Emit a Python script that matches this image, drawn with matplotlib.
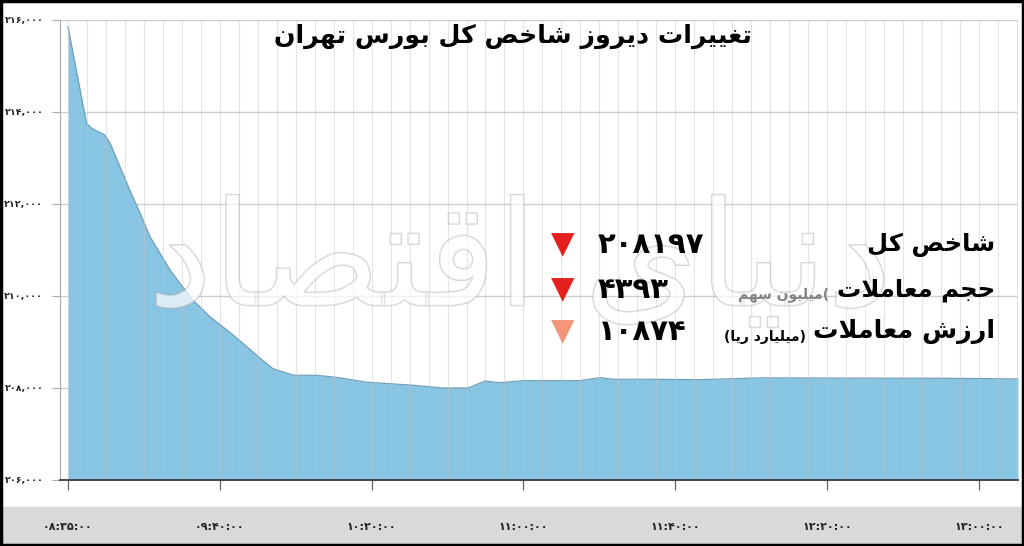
import unicodedata
import numpy as np
import matplotlib
matplotlib.use('Agg')
import matplotlib.pyplot as plt
from matplotlib.patches import Rectangle
import matplotlib.patheffects as pe

plt.rcParams['font.family'] = ['DejaVu Sans']

""" Data read off the chart (minutes after first tick, index value) """
minutes = [0, 4.9, 6.2, 9.7, 11.1, 13.7, 16.3, 19.0, 21.6, 24.2, 26.9, 29.5, 32.9,
           37.4, 41.9, 46.1, 50.6, 54.0, 59.3, 65.6, 70.9, 78.8, 90.1, 98.8,
           105.4, 109.9, 113.8, 119.9, 134.9, 140.2, 143.6, 153.4, 166.5, 182.3,
           206.1, 232.4, 250.3]
index_values = [215850, 213750, 213650, 213500, 213320, 212810, 212300, 211800,
                211290, 210935, 210565, 210275, 209910, 209550, 209260, 208970,
                208650, 208420, 208280, 208275, 208230, 208125, 208065, 208000,
                208000, 208150, 208115, 208160, 208160, 208225, 208190, 208190,
                208180, 208220, 208215, 208210, 208197]

x_tick_pos = [0, 40, 80, 120, 160, 200, 240]
x_tick_labels = ['۰۸:۳۵:۰۰', '۰۹:۴۰:۰۰', '۱۰:۲۰:۰۰', '۱۱:۰۰:۰۰',
                 '۱۱:۴۰:۰۰', '۱۲:۲۰:۰۰', '۱۳:۰۰:۰۰']
y_ticks = [206000, 208000, 210000, 212000, 214000, 216000]

title = 'تغییرات دیروز شاخص کل بورس تهران'
stat_names = ['شاخص کل', 'حجم معاملات', 'ارزش معاملات']
stat_units = ['', ')میلیون سهم', '(میلیارد ریا)']
stat_values = ['۲۰۸۱۹۷', '۴۳۹۳', '۱۰۸۷۴']
stat_colors = ['#e4201c', '#e4201c', '#f2957a']
watermark = 'دنیای اقتصاد'

FA_DIGITS = str.maketrans('0123456789', '۰۱۲۳۴۵۶۷۸۹')
RIGHT_ONLY = set('اآأإدذرزژو')


def forms(ch):
    """ Presentation forms of an arabic letter, None for anything else """
    if not ch:
        return None
    try:
        name = unicodedata.name(ch)
    except ValueError:
        return None
    if not name.startswith('ARABIC LETTER'):
        return None
    f = {}
    for k in ('ISOLATED', 'FINAL', 'INITIAL', 'MEDIAL'):
        try:
            f[k] = unicodedata.lookup(name + ' ' + k + ' FORM')
        except KeyError:
            pass
    return f


def fa(text):
    """ Tiny shaper: join letters and flip to visual order """
    out = []
    i = 0
    n = len(text)
    while i < n:
        c = text[i]
        f = forms(c)
        if not f:
            out.append(c)
            i += 1
            continue
        prev = text[i - 1] if i > 0 else ''
        nxt = text[i + 1] if i + 1 < n else ''
        joins_prev = bool(forms(prev)) and prev not in RIGHT_ONLY
        if c == 'ل' and nxt == 'ا':
            kind = 'FINAL' if joins_prev else 'ISOLATED'
            out.append(unicodedata.lookup('ARABIC LIGATURE LAM WITH ALEF ' + kind + ' FORM'))
            i += 2
            continue
        joins_next = bool(forms(nxt)) and c not in RIGHT_ONLY
        if joins_prev and joins_next:
            kind = 'MEDIAL'
        elif joins_prev:
            kind = 'FINAL'
        elif joins_next:
            kind = 'INITIAL'
        else:
            kind = 'ISOLATED'
        out.append(f.get(kind, f.get('ISOLATED', c)))
        i += 1
    return ''.join(out)[::-1].translate(str.maketrans('()', ')('))


W, H = 1024, 546
fig = plt.figure(figsize=(W / 100, H / 100), dpi=100)
fig.patch.set_facecolor('white')

""" Grey band under the plot and outer frame """
fig.patches.append(Rectangle((0, 0), 1, 39 / H, transform=fig.transFigure,
                             color='#d9d9d9', zorder=0))
fig.patches.append(Rectangle((0.001, 0.002), 0.998, 0.996, transform=fig.transFigure,
                             fill=False, ec='black', lw=2.5, zorder=10))

ax = fig.add_axes([60 / W, 66 / H, 958 / W, 460 / H])
ax.set_zorder(2)
ax.patch.set_alpha(0)

""" Horizontal grid behind the area, thin vertical lines over it """
for v in y_ticks:
    ax.axhline(v, color='#cfcfcf', lw=1.0, zorder=0.5)
for m in np.arange(0, 251, 5):
    ax.axvline(m, color='#c4c4c4', lw=0.8, alpha=0.45, zorder=3)

ax.fill_between(minutes, index_values, y_ticks[0], color='#88c5e3', lw=0, zorder=1)
ax.plot(minutes, index_values, color='#6f9fbc', lw=0.9, zorder=2)

ax.set_xlim(-2.1, 250.3)
ax.set_ylim(y_ticks[0], y_ticks[-1])

ax.set_xticks(x_tick_pos)
ax.set_xticklabels(x_tick_labels, fontsize=8, fontweight='bold', color='#222222')
ax.set_yticks(y_ticks)
ax.set_yticklabels([format(v, ',').translate(FA_DIGITS) for v in y_ticks],
                   fontsize=6.8, fontweight='bold', color='#222222')
ax.tick_params(axis='x', length=7, color='#555555', pad=23)
ax.tick_params(axis='y', length=6, color='#aaaaaa', pad=6)

for s in ('top', 'right'):
    ax.spines[s].set_visible(False)
ax.spines['left'].set_color('#aaaaaa')
ax.spines['bottom'].set_color('#3a3a3a')
ax.spines['bottom'].set_linewidth(1.3)
ax.spines['bottom'].set_zorder(4)

""" Faint logo watermark """
fig.text(520 / W, 1 - 265 / H, fa(watermark), ha='center', va='center',
         fontsize=105, color='white', alpha=0.45, zorder=4,
         path_effects=[pe.withStroke(linewidth=1.2, foreground='#a0a0a0')])

""" Title """
fig.text(513 / W, 1 - 36 / H, fa(title), ha='center', va='center',
         fontsize=18.2, fontweight='bold', color='black', zorder=5)

""" Summary block """
rows_y = [245, 290, 332]
name_size = [17.5, 17.5, 18.3]
unit_right = [0, 829, 806]
for k in range(3):
    y = 1 - rows_y[k] / H
    fig.text(995 / W, y, fa(stat_names[k]), ha='right', va='center',
             fontsize=name_size[k], fontweight='bold', color='black', zorder=5)
    if stat_units[k]:
        fig.text(unit_right[k] / W, y - 5 / H, fa(stat_units[k]), ha='right',
                 va='center', fontsize=10, fontweight='bold',
                 color='#808080' if k == 1 else 'black', zorder=5)
    fig.text(598 / W, y, stat_values[k], ha='left', va='center',
             fontsize=21, fontweight='bold', color='black', zorder=5)
    fig.text(563 / W, y, '▼', ha='center', va='center',
             fontsize=22, color=stat_colors[k], zorder=5)

fig.savefig('out.png', dpi=100)
